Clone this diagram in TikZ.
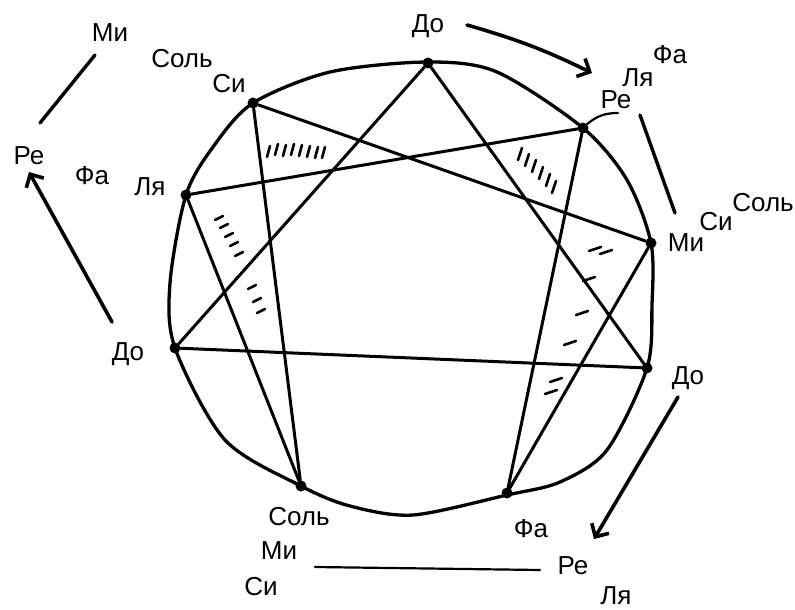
\documentclass[tikz,border=0pt]{standalone}
\usepackage{fontspec}
\setmainfont{Liberation Sans}
\usetikzlibrary{arrows.meta}
\begin{document}
\begin{tikzpicture}[x=1pt,y=-1pt,
  lbl/.style={font=\fontsize{26}{29}\selectfont, inner sep=0pt},
  rim/.style={line width=3.3pt, line join=round},
  chord/.style={line width=3pt, line cap=round},
  vdot/.style={circle, fill=black, minimum size=11pt, inner sep=0pt},
  arw/.style={line width=3.6pt, line cap=round, -{Straight Barb[length=10pt,width=20pt,line width=3.6pt]}},
  bar/.style={line width=3.4pt, line cap=round},
  thin/.style={line width=2.2pt, line cap=round},
  ink/.style={line width=2.6pt, line cap=round}
]
\useasboundingbox (0,0) rectangle (795,610);
\fill[white] (0,0) rectangle (795,610);

% outer hand-drawn circle
\draw[rim] plot[smooth cycle, tension=0.5] coordinates {
  (428,62) (497,72) (583,128) (627,180) (651,243) (652,305) (647,368)
  (607,450) (560,482) (507,495) (413,515) (350,506) (301,486) (225,440)
  (175,348) (170,283) (186,195) (213,147) (253,103) (330,72)};

% vertices
\node[vdot] (vtop) at (428,63) {};
\node[vdot] (vre)  at (583,128) {};
\node[vdot] (vmi)  at (651,243) {};
\node[vdot] (vdor) at (647,368) {};
\node[vdot] (vfa)  at (507,493) {};
\node[vdot] (vsol) at (301,486) {};
\node[vdot] (vdol) at (175,348) {};
\node[vdot] (vla)  at (186,195) {};
\node[vdot] (vsi)  at (253,103) {};

% triangle
\draw[chord] (vtop) -- (vdol);
\draw[chord] (vtop) -- (vdor);
\draw[chord] (vdol) -- (vdor);
% hexad
\draw[chord] (vre) -- (vfa);
\draw[chord] (vfa) -- (vmi);
\draw[chord] (vmi) -- (vsi);
\draw[chord] (vsi) -- (vsol);
\draw[chord] (vsol) -- (vla);
\draw[chord] (vla) -- (vre);

% small stroke from Re vertex to label
\coordinate (reend) at (618,113);
\draw[thin] (vre) to[bend left=20] (reend);

% scribbles
\foreach \x/\y in {267/152, 275/150, 283/151, 291/150, 299/151, 307/152, 315/153, 322/153}
  \draw[ink] (\x,\y+5) -- (\x+3,\y-6);
\foreach \x/\y in {219/218, 224/226, 229/235, 234/244, 239/254, 252/287, 257/300, 261/311}
  \draw[ink] (\x-4,\y+2) -- (\x+4,\y-2);
\foreach \x/\y in {520/154, 527/160, 534/166, 541/173, 548/180, 554/187}
  \draw[ink] (\x-2,\y+6) -- (\x+2,\y-6);
\foreach \x/\y in {595/249, 606/252, 589/279, 582/313, 570/343, 556/380, 551/392}
  \draw[ink] (\x-6,\y+2) -- (\x+6,\y-2);

% labels
\node[lbl] (l1)  at (110,33)  {Ми};
\node[lbl] (l2)  at (182,59)  {Соль};
\node[lbl] (l3)  at (229,84)  {Си};
\node[lbl] (l4)  at (29,156)  {Ре};
\node[lbl] (l5)  at (92,176)  {Фа};
\node[lbl] (l6)  at (150,187) {Ля};
\node[lbl] (l7)  at (128,354) {До};
\node[lbl] (l8)  at (428,26)  {До};
\node[lbl] (l9)  at (670,55)  {Фа};
\node[lbl] (l10) at (638,78)  {Ля};
\node[lbl] (l11) at (616,100) {Ре};
\node[lbl] (l12) at (763,203) {Соль};
\node[lbl] (l13) at (716,222) {Си};
\node[lbl] (l14) at (686,243) {Ми};
\node[lbl] (l15) at (688,378) {До};
\node[lbl] (l16) at (531,529) {Фа};
\node[lbl] (l17) at (573,566) {Ре};
\node[lbl] (l18) at (616,596) {Ля};
\node[lbl] (l19) at (299,517) {Соль};
\node[lbl] (l20) at (279,551) {Ми};
\node[lbl] (l21) at (261,587) {Си};

% arrows and strokes
\coordinate (a1s) at (112,322); \coordinate (a1e) at (29,172);
\draw[arw] (a1s) -- (a1e);
\coordinate (b1s) at (40,123); \coordinate (b1e) at (95,55);
\draw[bar] (b1s) -- (b1e);
\coordinate (a2s) at (467,25); \coordinate (a2e) at (592,73);
\draw[arw] (a2s) to[bend left=5] (a2e);
\coordinate (b2s) at (640,115); \coordinate (b2e) at (675,213);
\draw[bar] (b2s) -- (b2e);
\coordinate (a3s) at (678,397); \coordinate (a3e) at (594,539);
\draw[arw] (a3s) -- (a3e);
\coordinate (b3s) at (315,567); \coordinate (b3e) at (540,570);
\draw[thin] (b3s) -- (b3e);
\end{tikzpicture}
\end{document}
